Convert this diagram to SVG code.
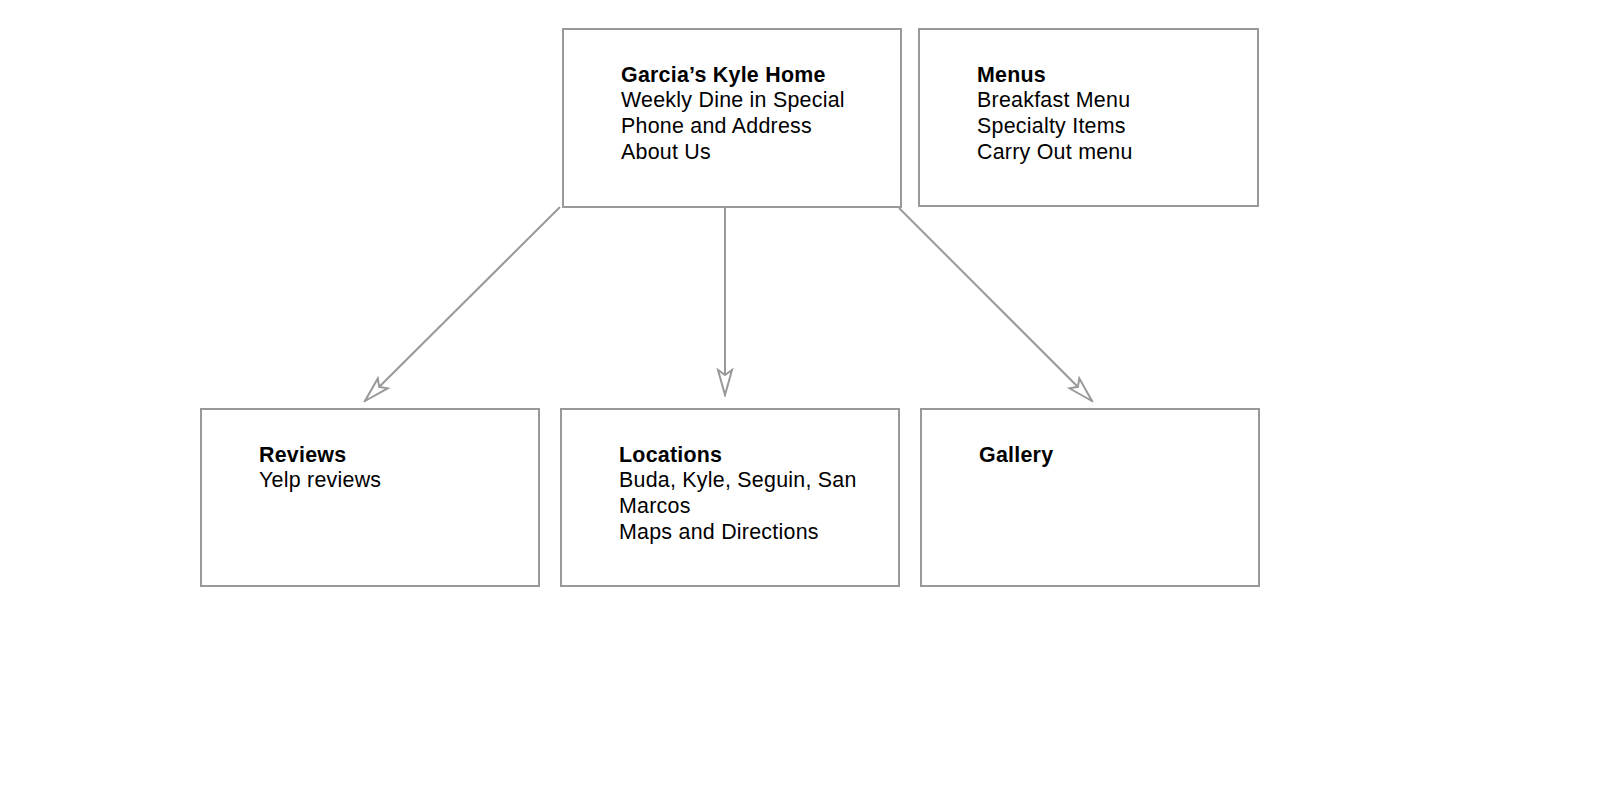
<svg xmlns="http://www.w3.org/2000/svg" width="1600" height="800" viewBox="0 0 1600 800">
<style>
.box{fill:#fff;stroke:#999;stroke-width:2}
.t{font-family:"Liberation Sans",Arial,sans-serif;font-size:21.4px;fill:#000;letter-spacing:0.25px}
.b{font-weight:bold}
.conn{stroke:#999;stroke-width:2;fill:none}
</style>
<defs>
<marker id="arr" viewBox="-27 -9 29 18" refX="0" refY="0" markerWidth="29" markerHeight="18" markerUnits="userSpaceOnUse" orient="auto">
<path d="M0,0 L-25,-7 L-20,0 L-25,7 Z" fill="#fff" stroke="#999" stroke-width="2" stroke-linejoin="miter"/>
</marker>
</defs>
<rect width="1600" height="800" fill="#fff"/>
<g id="connectors">
<line class="conn" x1="560" y1="207" x2="365" y2="401" marker-end="url(#arr)"/>
<line class="conn" x1="725" y1="207" x2="725" y2="395" marker-end="url(#arr)"/>
<line class="conn" x1="899" y1="208" x2="1092" y2="401" marker-end="url(#arr)"/>
</g>
<g id="home">
<rect class="box" x="563" y="29" width="338" height="178"/>
<text class="t" x="621"><tspan class="b" x="621" y="81.7">Garcia’s Kyle Home</tspan><tspan x="621" y="107.4">Weekly Dine in Special</tspan><tspan x="621" y="133">Phone and Address</tspan><tspan x="621" y="158.6">About Us</tspan></text>
</g>
<g id="menus">
<rect class="box" x="919" y="29" width="339" height="177"/>
<text class="t"><tspan class="b" x="977" y="81.7">Menus</tspan><tspan x="977" y="107.4">Breakfast Menu</tspan><tspan x="977" y="133">Specialty Items</tspan><tspan x="977" y="158.6">Carry Out menu</tspan></text>
</g>
<g id="reviews">
<rect class="box" x="201" y="409" width="338" height="177"/>
<text class="t"><tspan class="b" x="259" y="461.7">Reviews</tspan><tspan x="259" y="487.4">Yelp reviews</tspan></text>
</g>
<g id="locations">
<rect class="box" x="561" y="409" width="338" height="177"/>
<text class="t"><tspan class="b" x="619" y="461.7">Locations</tspan><tspan x="619" y="487.4">Buda, Kyle, Seguin, San</tspan><tspan x="619" y="513">Marcos</tspan><tspan x="619" y="538.6">Maps and Directions</tspan></text>
</g>
<g id="gallery">
<rect class="box" x="921" y="409" width="338" height="177"/>
<text class="t"><tspan class="b" x="979" y="461.7">Gallery</tspan></text>
</g>
</svg>
